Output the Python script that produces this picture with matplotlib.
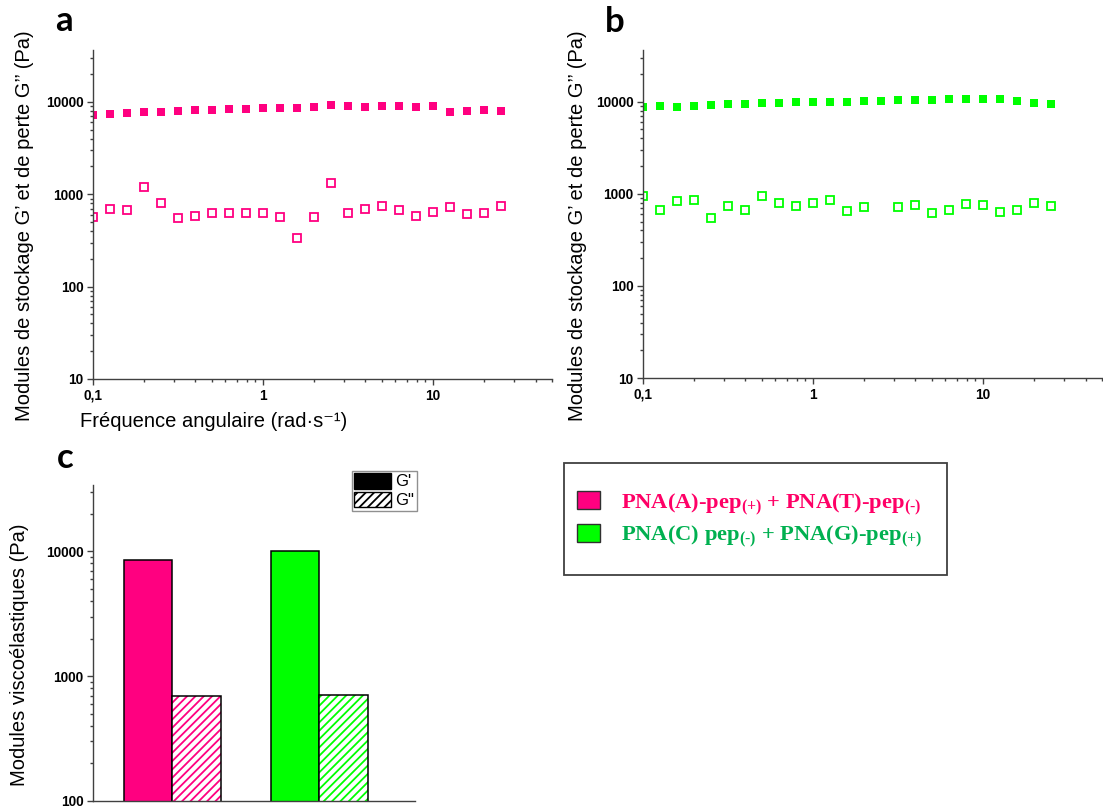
"""
Viscoelastic moduli of the two PNA-peptide hydrogels (frequency sweeps + summary bars).
"""

import numpy as np
import matplotlib

matplotlib.use("Agg")
import matplotlib.pyplot as plt
from matplotlib.font_manager import FontProperties
from matplotlib.patches import Patch, Rectangle
from matplotlib.ticker import FixedFormatter, FixedLocator, LogLocator, NullFormatter

plt.rcParams["font.family"] = ["Liberation Sans", "DejaVu Sans"]
plt.rcParams["mathtext.fontset"] = "custom"
plt.rcParams["mathtext.rm"] = "Liberation Serif:bold"
plt.rcParams["mathtext.it"] = "Liberation Serif:bold"
plt.rcParams["mathtext.bf"] = "Liberation Serif:bold"
plt.rcParams["hatch.linewidth"] = 1.3

PINK = "#ff0080"
GREEN = "#00ff00"
AXIS_COLOR = "#404040"

# angular frequency (rad/s), 10 points per decade
freq = [0.1, 0.126, 0.158, 0.2, 0.251, 0.316, 0.398, 0.501, 0.631, 0.794,
        1.0, 1.26, 1.58, 2.0, 2.51, 3.16, 3.98, 5.01, 6.31, 7.94,
        10.0, 12.6, 15.8, 20.0, 25.1]

# panel a : PNA(A)-pep(+) + PNA(T)-pep(-)
g_stor_a = [7290, 7420, 7600, 7790, 7790, 8060, 8190, 8190, 8400, 8400,
            8540, 8540, 8610, 8750, 9200, 8980, 8750, 9050, 8980, 8900,
            8980, 7730, 7920, 8120, 7990]
g_loss_a = [564, 694, 677, 1211, 812, 559, 578, 623, 623, 623,
            633, 564, 336, 568, 1327, 623, 694, 748, 677, 578,
            638, 735, 612, 633, 754]

# panel b : PNA(C) pep(-) + PNA(G)-pep(+)
g_stor_b = [8830, 8980, 8830, 9050, 9200, 9430, 9430, 9590, 9590, 9830,
            9830, 10000, 10000, 10170, 10080, 10340, 10420, 10420, 10690, 10690,
            10780, 10780, 10080, 9750, 9430]
g_loss_b = [952, 671, 833, 861, 545, 730, 671, 944, 786, 741,
            786, 861, 649, 717, np.nan, 711, 748, 618, 666, 780,
            766, 628, 671, 805, 730]

# panel c : mean moduli
bar_groups = [1, 2]
bar_g_stor = [8480, 9990]
bar_g_loss = [690, 711]
bar_colors = [PINK, GREEN]

legend_labels = [r"PNA(A)-pep$_{(+)}$ + PNA(T)-pep$_{(\text{-})}$",
                 r"PNA(C) pep$_{(\text{-})}$ + PNA(G)-pep$_{(+)}$"]
legend_text_colors = ["#ff0066", "#00b050"]

W, H = 1103, 809


def px_axes(left, top, right, bottom):
    """Axes rectangle from pixel coordinates (origin top-left)."""
    return [left / W, 1 - bottom / H, (right - left) / W, (bottom - top) / H]


def style_axis(ax, yticks):
    for side in ("top", "right"):
        ax.spines[side].set_visible(False)
    for side in ("left", "bottom"):
        ax.spines[side].set_color(AXIS_COLOR)
        ax.spines[side].set_linewidth(1.0)
    ax.set_yscale("log")
    ax.yaxis.set_major_locator(FixedLocator(yticks))
    ax.yaxis.set_major_formatter(FixedFormatter([str(t) for t in yticks]))
    ax.yaxis.set_minor_locator(LogLocator(base=10, subs=np.arange(2, 10)))
    ax.yaxis.set_minor_formatter(NullFormatter())
    ax.tick_params(which="both", direction="out", color=AXIS_COLOR, width=1.0)
    ax.tick_params(which="major", length=4.5, pad=2.5, labelsize=9.8)
    ax.tick_params(which="minor", length=2.3)


def style_freq_axis(ax):
    ax.set_xscale("log")
    ax.set_xlim(0.1, 50)
    ax.xaxis.set_major_locator(FixedLocator([0.1, 1, 10]))
    ax.xaxis.set_major_formatter(FixedFormatter(["0,1", "1", "10"]))
    ax.xaxis.set_minor_locator(LogLocator(base=10, subs=np.arange(2, 10)))
    ax.xaxis.set_minor_formatter(NullFormatter())


def plot_sweep(ax, g_stor, g_loss, color):
    ax.plot(freq, g_stor, "s", color=color, ms=5.6, mew=0)
    ax.plot(freq, g_loss, "s", mfc="white", mec=color, ms=5.2, mew=1.3)
    style_axis(ax, [10, 100, 1000, 10000])
    style_freq_axis(ax)
    ax.set_ylim(10, 36500)


fig = plt.figure(figsize=(W / 100, H / 100), dpi=100)

ylabel_sweep = "Modules de stockage G\u2019 et de perte G\u2019\u2019 (Pa)"

ax_a = fig.add_axes(px_axes(93, 50, 552, 379))
plot_sweep(ax_a, g_stor_a, g_loss_a, PINK)
ax_a.set_ylabel(ylabel_sweep, fontsize=14.5)
ax_a.yaxis.set_label_coords(-0.128, 0.467)
ax_a.set_xlabel("Fréquence angulaire (rad\u00b7s\u207b\u00b9)", fontsize=14.5)
ax_a.xaxis.set_label_coords(0.2625, -0.099)

ax_b = fig.add_axes(px_axes(643, 50, 1102, 378))
plot_sweep(ax_b, g_stor_b, g_loss_b, GREEN)
ax_b.set_ylabel(ylabel_sweep, fontsize=14.5)
ax_b.yaxis.set_label_coords(-0.123, 0.463)

# panel c
ax_c = fig.add_axes(px_axes(93, 485, 415, 801))
style_axis(ax_c, [100, 1000, 10000])
width = 0.331
x = np.array(bar_groups)
ax_c.bar(x - width / 2, bar_g_stor, width, color=bar_colors,
         edgecolor="black", linewidth=1.1)
ax_c.bar(x + width / 2, bar_g_loss, width, color="white",
         edgecolor=bar_colors, hatch="////", linewidth=0)
ax_c.bar(x + width / 2, bar_g_loss, width, color="none",
         edgecolor="black", linewidth=1.1)
ax_c.set_xlim(0.46, 2.65)
ax_c.set_ylim(100, 34000)
ax_c.set_xticks([])
ax_c.set_ylabel("Modules viscoélastiques (Pa)", fontsize=14.5)
ax_c.yaxis.set_label_coords(-0.198, 0.464)

leg_c = ax_c.legend(
    handles=[Patch(facecolor="black", edgecolor="black"),
             Patch(facecolor="white", edgecolor="black", hatch="////")],
    labels=["G'", 'G"'],
    loc="lower left", bbox_to_anchor=(0.804, 0.918), borderaxespad=0,
    fontsize=12, handlelength=2.2, handleheight=1.05, handletextpad=0.25,
    labelspacing=0.15, borderpad=0.15, fancybox=False, framealpha=1,
    edgecolor="#909090",
)
leg_c.get_frame().set_linewidth(1.0)

for ax in (ax_a, ax_b, ax_c):
    plt.setp(ax.get_xticklabels() + ax.get_yticklabels(), fontweight="bold")

# sample legend
fig.add_artist(Rectangle((564.4 / W, 1 - 575.3 / H), (946.8 - 564.4) / W,
                         (575.3 - 462.7) / H, transform=fig.transFigure,
                         fill=False, edgecolor=AXIS_COLOR, linewidth=1.3))
leg = fig.legend(
    handles=[Patch(facecolor=c, edgecolor="#303030", linewidth=1.0) for c in bar_colors],
    labels=legend_labels,
    loc="upper left", bbox_to_anchor=(577 / W, 1 - 491 / H),
    frameon=False, borderpad=0, borderaxespad=0,
    prop=FontProperties(family="Liberation Serif", weight="bold", size=16.2),
    handlelength=1.0, handleheight=0.85, handletextpad=0.95, labelspacing=0.3,
)
for text, color in zip(leg.get_texts(), legend_text_colors):
    text.set_color(color)

# panel letters
for letter, (lx, ly) in zip("abc", [(55, 31), (605, 32), (57, 468)]):
    fig.text(lx / W, 1 - ly / H, letter, fontsize=25, fontweight="bold",
             family=["Lato", "DejaVu Sans"], va="baseline", ha="left")

fig.savefig("out.png", dpi=100)
